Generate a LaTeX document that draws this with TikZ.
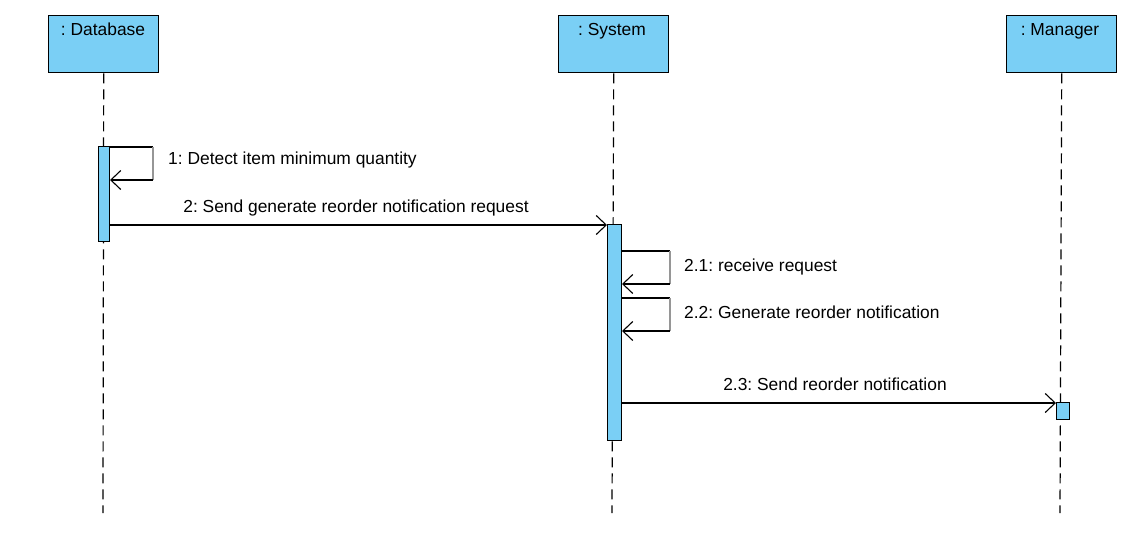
\documentclass[tikz,border=0pt]{standalone}
\usepackage{fontspec}
\setmainfont{Liberation Sans}
\usetikzlibrary{arrows.meta}
\definecolor{umlblue}{RGB}{122,207,245}
\definecolor{selfgray}{RGB}{150,150,150}
\frenchspacing
\begin{document}
\begin{tikzpicture}[x=1pt,y=-1pt,
  head/.style={draw=black,fill=umlblue,line width=1.4pt,minimum width=110pt,minimum height=57pt,inner sep=0pt,anchor=north west},
  headtext/.style={font=\fontsize{17.4}{20}\selectfont,anchor=base,inner sep=0pt},
  actbar/.style={draw=black,fill=umlblue,line width=1.2pt,anchor=north west,inner sep=0pt},
  lifeline/.style={line width=1.2pt,dash pattern=on 10pt off 6pt},
  msg/.style={line width=1.1pt,-{Straight Barb[length=10pt,width=19pt,line width=1.1pt]}},
  selfmsg/.style={line width=1.1pt},
  lbl/.style={font=\fontsize{17.4}{20}\selectfont,inner sep=0pt}]
\useasboundingbox (0,0) rectangle (1132,551);
% heads
\node[head] (dbh) at (48,15) {};
\node[head] (sysh) at (558,15) {};
\node[head] (mgrh) at (1006,15) {};
\node[headtext] (dbt) at (103,36) {: Database};
\node[headtext] (syst) at (612,36) {: System};
\node[headtext] (mgrt) at (1060,36) {: Manager};
% lifeline ends
\coordinate (dbend) at (103,513);
\coordinate (sysend) at (612,513);
\coordinate (mgrend) at (1060,513);
\draw[lifeline] (dbh.south) -- (dbend);
\draw[lifeline] (sysh.south) -- (sysend);
\draw[lifeline] (mgrh.south) -- (mgrend);
% activation bars
\node[actbar,minimum width=11pt,minimum height=95pt] (dba) at (98,146) {};
\node[actbar,minimum width=14pt,minimum height=216pt] (sysa) at (607,224) {};
\node[actbar,minimum width=13pt,minimum height=17pt] (mgra) at (1056,402) {};
% message 1 (self)
\coordinate (m1a) at (110,147);
\coordinate (m1b) at (153,147);
\coordinate (m1c) at (153,180);
\coordinate (m1d) at (110,180);
\draw[selfmsg] (m1a) -- (m1b);
\draw[selfmsg,selfgray] (m1b) -- (m1c);
\draw[msg] (m1c) -- (m1d);
\node[lbl,anchor=base west] (l1) at (168,164) {1: Detect item minimum quantity};
% message 2
\coordinate (m2a) at (110,225);
\draw[msg] (m2a) -- (sysa.north west |- m2a);
\node[lbl,anchor=base] (l2) at (356,212) {2: Send generate reorder notification request};
% message 2.1
\coordinate (m21a) at (622,251);
\coordinate (m21b) at (670,251);
\coordinate (m21c) at (670,284);
\coordinate (m21d) at (622,284);
\draw[selfmsg] (m21a) -- (m21b);
\draw[selfmsg,selfgray] (m21b) -- (m21c);
\draw[msg] (m21c) -- (m21d);
\node[lbl,anchor=base west] (l21) at (684,271) {2.1: receive request};
% message 2.2
\coordinate (m22a) at (622,298);
\coordinate (m22b) at (670,298);
\coordinate (m22c) at (670,331);
\coordinate (m22d) at (622,331);
\draw[selfmsg] (m22a) -- (m22b);
\draw[selfmsg,selfgray] (m22b) -- (m22c);
\draw[msg] (m22c) -- (m22d);
\node[lbl,anchor=base west] (l22) at (684,318) {2.2: Generate reorder notification};
% message 2.3
\coordinate (m23a) at (622,403);
\draw[msg] (m23a) -- (mgra.north west |- m23a);
\node[lbl,anchor=base] (l23) at (835,390) {2.3: Send reorder notification};
\end{tikzpicture}
\end{document}
